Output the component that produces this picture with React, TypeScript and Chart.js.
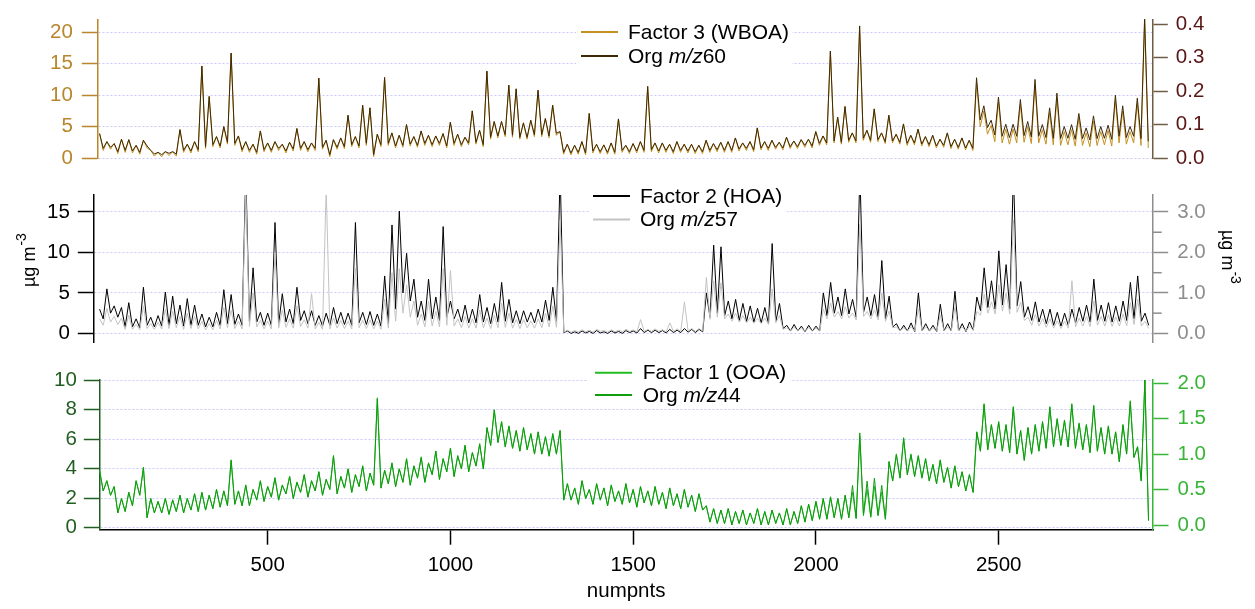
import React, { useEffect, useRef } from 'react';
import { Chart, registerables } from 'chart.js';

Chart.register(...registerables);

// ---------------- DATA ----------------
// Each 20-point bin i starts at numpnts = X_START + i * X_STEP.
// "Hi" = top of the noisy trace in that bin (incl. spikes), "Lo" = bottom of the trace.
const X_START = 40;
const X_STEP = 20;

// Panel 1: Factor 3 (WBOA), left axis
const f3Hi = [
  3.9, 2.6, 2.3, 3.0, 2.9, 2.0, 2.8, 1.2, 0.9, 1.0,
  1.0, 4.5, 2.2, 2.6, 14.6, 9.8, 3.4, 5.0, 16.7, 3.5,
  2.6, 2.2, 4.3, 2.4, 2.6, 2.2, 2.5, 4.7, 2.6, 2.4,
  12.7, 2.8, 2.9, 3.2, 6.8, 3.4, 8.4, 8.0, 3.8, 12.8,
  4.0, 3.6, 5.3, 3.4, 4.3, 3.6, 3.5, 3.9, 5.7, 3.8,
  3.3, 7.5, 4.4, 13.8, 5.8, 5.8, 11.6, 11.0, 5.6, 6.0,
  10.8, 6.3, 8.4, 4.2, 2.2, 2.0, 2.6, 7.1, 2.2, 2.1,
  2.4, 6.2, 2.0, 2.3, 2.6, 11.4, 2.4, 2.4, 2.2, 2.6,
  2.2, 2.2, 2.0, 2.8, 2.3, 2.5, 2.6, 3.2, 2.4, 2.6,
  4.8, 2.6, 2.8, 2.5, 3.3, 2.7, 2.9, 3.0, 4.2, 3.5,
  17.0, 6.5, 8.2, 4.0, 21.0, 4.4, 7.8, 4.0, 6.8, 3.8,
  5.4, 3.6, 4.6, 3.4, 3.6, 3.0, 4.0, 3.0, 3.2, 2.8,
  12.0, 7.5, 5.2, 8.9, 4.6, 4.6, 8.5, 5.0, 11.7, 4.5,
  7.2, 9.5, 4.2, 4.5, 6.3, 4.0, 5.9, 4.2, 4.4, 9.2,
  7.5, 4.2, 8.7, 22.2,
];
const f3Lo = [
  1.2, 1.4, 0.7, 0.9, 0.8, 0.6, 1.6, 0.3, 0.2, 0.4,
  0.3, 0.9, 0.8, 1.0, 1.5, 1.8, 1.6, 2.2, 2.0, 1.0,
  0.9, 0.6, 1.0, 0.9, 1.2, 0.8, 1.1, 1.2, 1.0, 1.2,
  1.4, 0.2, 1.4, 1.5, 1.8, 1.6, 2.0, 0.2, 1.8, 2.0,
  1.6, 1.7, 1.9, 1.7, 2.0, 1.8, 2.0, 1.6, 2.0, 1.8,
  2.1, 2.2, 1.8, 3.0, 3.2, 3.4, 3.3, 3.0, 3.0, 3.4,
  3.4, 3.2, 3.6, 0.6, 0.5, 0.6, 0.5, 0.8, 0.7, 0.6,
  0.6, 0.9, 0.7, 0.8, 0.9, 1.0, 0.8, 0.9, 0.7, 0.9,
  0.8, 0.7, 0.7, 0.9, 1.0, 0.9, 0.9, 1.1, 1.2, 1.0,
  1.3, 1.2, 1.4, 1.3, 1.5, 1.5, 1.7, 1.6, 2.0, 2.1,
  2.4, 2.2, 2.5, 2.4, 2.8, 2.5, 2.6, 2.3, 2.4, 2.2,
  2.0, 2.1, 1.9, 1.8, 1.6, 1.7, 1.5, 1.4, 1.3, 1.2,
  5.0, 3.8, 2.6, 2.4, 2.2, 2.4, 2.5, 2.3, 2.4, 2.2,
  2.1, 2.0, 2.1, 1.9, 2.0, 1.8, 2.0, 2.1, 1.9, 2.4,
  2.2, 2.4, 2.0, 1.6,
];
// Panel 1: Org m/z60, right axis
const mz60Hi = [
  0.073, 0.049, 0.043, 0.056, 0.055, 0.038, 0.053, 0.023, 0.017, 0.019,
  0.019, 0.085, 0.041, 0.049, 0.275, 0.184, 0.064, 0.094, 0.314, 0.066,
  0.049, 0.041, 0.081, 0.045, 0.049, 0.041, 0.047, 0.088, 0.049, 0.045,
  0.239, 0.053, 0.055, 0.06, 0.128, 0.064, 0.158, 0.15, 0.071, 0.241,
  0.075, 0.068, 0.1, 0.064, 0.081, 0.068, 0.066, 0.073, 0.107, 0.071,
  0.062, 0.141, 0.083, 0.26, 0.109, 0.109, 0.218, 0.207, 0.105, 0.113,
  0.203, 0.118, 0.158, 0.079, 0.041, 0.038, 0.049, 0.133, 0.041, 0.039,
  0.045, 0.117, 0.038, 0.043, 0.049, 0.214, 0.045, 0.045, 0.041, 0.049,
  0.041, 0.041, 0.038, 0.053, 0.043, 0.047, 0.049, 0.06, 0.045, 0.049,
  0.09, 0.049, 0.053, 0.047, 0.062, 0.051, 0.055, 0.056, 0.079, 0.066,
  0.32, 0.122, 0.154, 0.075, 0.395, 0.083, 0.147, 0.075, 0.128, 0.071,
  0.102, 0.068, 0.086, 0.064, 0.068, 0.056, 0.075, 0.056, 0.06, 0.053,
  0.24, 0.156, 0.113, 0.182, 0.101, 0.101, 0.175, 0.109, 0.235, 0.1,
  0.15, 0.194, 0.094, 0.1, 0.133, 0.09, 0.126, 0.094, 0.098, 0.188,
  0.156, 0.094, 0.179, 0.42,
];
const mz60Lo = [
  0.029, 0.032, 0.019, 0.023, 0.021, 0.017, 0.036, 0.012, 0.01, 0.014,
  0.012, 0.023, 0.021, 0.025, 0.034, 0.04, 0.036, 0.047, 0.044, 0.025,
  0.023, 0.017, 0.025, 0.023, 0.029, 0.021, 0.027, 0.029, 0.025, 0.029,
  0.032, 0.01, 0.032, 0.034, 0.04, 0.036, 0.044, 0.01, 0.04, 0.044,
  0.036, 0.038, 0.042, 0.038, 0.044, 0.04, 0.044, 0.036, 0.044, 0.04,
  0.045, 0.047, 0.04, 0.062, 0.066, 0.07, 0.068, 0.062, 0.062, 0.07,
  0.07, 0.066, 0.074, 0.017, 0.015, 0.017, 0.015, 0.021, 0.019, 0.017,
  0.017, 0.023, 0.019, 0.021, 0.023, 0.025, 0.021, 0.023, 0.019, 0.023,
  0.021, 0.019, 0.019, 0.023, 0.025, 0.023, 0.023, 0.027, 0.029, 0.025,
  0.03, 0.029, 0.032, 0.03, 0.034, 0.034, 0.038, 0.036, 0.044, 0.045,
  0.051, 0.047, 0.053, 0.051, 0.059, 0.053, 0.055, 0.049, 0.051, 0.047,
  0.044, 0.045, 0.042, 0.04, 0.036, 0.038, 0.034, 0.032, 0.03, 0.029,
  0.114, 0.091, 0.069, 0.065, 0.061, 0.065, 0.067, 0.063, 0.065, 0.061,
  0.059, 0.058, 0.059, 0.056, 0.058, 0.054, 0.058, 0.059, 0.056, 0.065,
  0.061, 0.065, 0.058, 0.05,
];

// Panel 2: Factor 2 (HOA), left axis (values above 17 run off the top)
const f2Hi = [
  3.0, 5.5, 3.4, 3.2, 3.8, 1.8, 5.7, 2.0, 2.2, 5.1,
  4.6, 3.5, 4.3, 3.5, 2.4, 2.0, 2.6, 5.4, 4.8, 2.4,
  20, 8.1, 2.6, 2.5, 13.7, 4.9, 3.0, 5.7, 2.8, 2.8,
  2.2, 2.5, 3.2, 2.6, 2.5, 13.7, 2.6, 2.7, 2.4, 7.1,
  13.4, 15.1, 9.9, 6.7, 4.0, 6.7, 4.5, 13.2, 4.0, 3.0,
  3.5, 3.0, 4.8, 3.2, 3.7, 6.3, 4.2, 2.8, 2.8, 2.6,
  3.0, 4.1, 5.7, 20, 0.3, 0.2, 0.3, 0.25, 0.35, 0.2,
  0.3, 0.25, 0.35, 0.3, 0.6, 0.4, 0.4, 0.35, 0.5, 0.4,
  0.6, 0.5, 0.5, 5.0, 10.9, 10.7, 4.0, 4.2, 3.7, 3.4,
  3.1, 3.2, 11.1, 3.7, 1.0, 1.1, 0.9, 1.0, 0.9, 5.0,
  6.3, 4.5, 5.5, 4.2, 20, 4.5, 4.8, 9.0, 4.6, 1.2,
  1.0, 1.3, 5.0, 1.2, 1.0, 3.6, 1.2, 5.2, 1.2, 1.4,
  4.5, 8.1, 6.5, 10.2, 8.5, 20, 6.4, 3.3, 3.9, 3.0,
  3.0, 2.6, 2.5, 3.0, 3.2, 3.5, 6.7, 3.5, 3.8, 3.4,
  4.0, 6.3, 7.1, 2.5,
];
const f2Lo = [
  1.8, 2.5, 2.0, 0.8, 0.8, 0.7, 1.0, 0.8, 0.9, 1.0,
  1.2, 0.9, 1.0, 1.0, 0.8, 0.8, 1.0, 1.2, 1.1, 1.0,
  1.5, 1.4, 1.0, 1.0, 1.2, 1.4, 1.2, 1.6, 1.2, 1.0,
  0.9, 1.0, 1.2, 1.1, 1.0, 1.3, 1.1, 1.0, 0.9, 1.2,
  3.0, 5.0, 4.0, 2.0, 1.6, 1.8, 1.6, 2.0, 1.8, 1.4,
  1.3, 1.3, 1.4, 1.2, 1.4, 1.5, 1.3, 1.2, 1.4, 1.3,
  1.4, 1.6, 1.5, 0.1, 0.0, 0.0, 0.05, 0.0, 0.05, 0.0,
  0.05, 0.0, 0.1, 0.05, 0.1, 0.1, 0.1, 0.05, 0.1, 0.1,
  0.15, 0.1, 0.2, 2.0, 2.5, 2.2, 1.8, 1.6, 1.5, 1.4,
  1.3, 1.2, 1.5, 0.6, 0.3, 0.3, 0.2, 0.3, 0.3, 2.2,
  2.5, 2.2, 2.4, 2.0, 2.6, 2.2, 2.0, 1.8, 0.8, 0.3,
  0.3, 0.2, 0.3, 0.3, 0.2, 0.3, 0.3, 0.3, 0.2, 0.4,
  2.8, 3.2, 3.0, 3.5, 3.0, 3.4, 2.0, 1.6, 1.4, 1.2,
  1.0, 0.9, 1.0, 1.3, 1.5, 1.4, 1.6, 1.5, 1.4, 1.5,
  1.6, 1.8, 1.5, 1.0,
];
// Panel 2: Org m/z57, right axis
const mz57Hi = [
  0.36, 0.62, 0.42, 0.38, 0.45, 0.22, 0.68, 0.24, 0.27, 0.6,
  0.55, 0.42, 0.5, 0.42, 0.3, 0.24, 0.32, 0.64, 0.57, 0.3,
  3.6, 1.0, 0.32, 0.3, 2.0, 0.58, 0.36, 0.68, 0.34, 0.98,
  0.27, 3.6, 0.38, 0.32, 0.3, 1.6, 0.32, 0.33, 0.3, 0.85,
  1.5, 1.6, 1.2, 0.8, 0.48, 0.8, 0.54, 1.6, 1.55, 0.36,
  0.42, 0.36, 0.58, 0.38, 0.44, 0.75, 0.5, 0.34, 0.34, 0.31,
  0.36, 0.5, 0.68, 2.8, 0.08, 0.07, 0.09, 0.08, 0.1, 0.07,
  0.09, 0.08, 0.1, 0.09, 0.34, 0.1, 0.11, 0.09, 0.26, 0.11,
  0.78, 0.12, 0.12, 1.38, 1.3, 1.25, 0.48, 0.5, 0.44, 0.4,
  0.37, 0.38, 1.1, 0.44, 0.14, 0.15, 0.13, 0.14, 0.13, 0.6,
  0.75, 0.54, 0.66, 0.5, 2.7, 0.54, 0.58, 1.0, 0.55, 0.16,
  0.14, 0.17, 0.6, 0.16, 0.14, 0.45, 0.16, 0.65, 0.16, 0.18,
  0.54, 0.97, 0.78, 1.2, 1.0, 2.8, 0.77, 0.4, 0.47, 0.36,
  0.36, 0.31, 0.3, 1.3, 0.38, 0.42, 0.8, 0.42, 0.46, 0.41,
  0.48, 0.76, 0.85, 0.3,
];
const mz57Lo = [
  0.2, 0.28, 0.22, 0.1, 0.1, 0.09, 0.12, 0.1, 0.11, 0.12,
  0.14, 0.1, 0.12, 0.11, 0.09, 0.09, 0.11, 0.14, 0.12, 0.11,
  0.17, 0.16, 0.11, 0.11, 0.13, 0.15, 0.13, 0.17, 0.13, 0.11,
  0.1, 0.11, 0.13, 0.12, 0.11, 0.14, 0.12, 0.11, 0.1, 0.13,
  0.3, 0.5, 0.4, 0.2, 0.16, 0.18, 0.16, 0.2, 0.18, 0.14,
  0.13, 0.13, 0.14, 0.12, 0.14, 0.15, 0.13, 0.12, 0.14, 0.13,
  0.14, 0.16, 0.15, 0.03, 0.03, 0.04, 0.04, 0.03, 0.05, 0.03,
  0.04, 0.04, 0.05, 0.04, 0.05, 0.05, 0.05, 0.04, 0.05, 0.05,
  0.06, 0.05, 0.06, 0.35, 0.4, 0.36, 0.3, 0.28, 0.26, 0.25,
  0.24, 0.22, 0.26, 0.1, 0.06, 0.06, 0.05, 0.06, 0.06, 0.36,
  0.4, 0.36, 0.38, 0.33, 0.42, 0.36, 0.33, 0.3, 0.14, 0.06,
  0.06, 0.05, 0.06, 0.06, 0.05, 0.06, 0.06, 0.06, 0.05, 0.08,
  0.45, 0.5, 0.48, 0.55, 0.48, 0.52, 0.32, 0.2, 0.18, 0.15,
  0.13, 0.12, 0.13, 0.16, 0.18, 0.17, 0.2, 0.18, 0.17, 0.18,
  0.19, 0.22, 0.18, 0.12,
];

// Panel 3: Factor 1 (OOA), left axis
const f1Hi = [
  3.9, 3.2, 2.8, 2.0, 2.4, 3.2, 4.1, 2.0, 1.8, 2.0,
  1.9, 2.2, 2.0, 2.3, 2.4, 2.2, 2.6, 2.5, 4.6, 2.5,
  2.9, 2.6, 3.2, 2.8, 3.4, 2.9, 3.5, 3.1, 3.6, 3.2,
  3.8, 3.3, 4.9, 3.5, 4.0, 3.6, 4.2, 3.7, 8.8, 3.9,
  4.4, 4.0, 4.7, 4.2, 4.8, 4.4, 5.2, 4.7, 5.4, 4.9,
  5.6, 5.1, 5.7, 6.8, 8.0, 7.2, 6.9, 6.6, 6.8, 6.4,
  6.5, 6.2, 6.4, 6.6, 3.0, 2.7, 3.2, 2.6, 3.0, 2.7,
  2.9, 2.5, 3.0, 2.6, 2.8, 2.5, 2.8, 2.4, 2.7, 2.3,
  2.6, 2.2, 2.3, 1.5, 1.3, 1.2, 1.3, 1.1, 1.2, 1.0,
  1.3, 1.1, 1.2, 1.0, 1.3, 1.1, 1.5, 1.6, 1.8, 2.0,
  2.1, 2.0, 2.2, 2.4, 6.2, 2.6, 2.8, 2.4, 4.5, 5.0,
  6.1, 5.0, 4.9, 4.7, 4.3, 4.6, 4.1, 4.2, 3.8, 3.6,
  6.5, 8.4, 7.0, 7.2, 7.0, 8.2, 6.6, 6.8, 7.0, 7.2,
  8.2, 7.4, 7.3, 8.4, 7.1, 7.0, 8.3, 6.8, 6.9, 6.5,
  7.0, 8.6, 5.5, 10.0,
];
const f1Lo = [
  2.5, 2.2, 1.0, 1.1, 1.5, 2.2, 0.7, 1.0, 1.0, 0.9,
  1.1, 1.0, 1.2, 1.1, 1.2, 1.3, 1.4, 1.5, 1.6, 1.5,
  1.5, 1.9, 1.8, 2.1, 1.9, 2.3, 2.0, 2.4, 2.1, 2.5,
  2.2, 2.6, 2.3, 2.7, 2.4, 2.8, 2.5, 2.9, 2.7, 3.0,
  2.8, 3.1, 2.9, 3.4, 3.1, 3.6, 3.3, 3.8, 3.5, 4.0,
  3.8, 4.2, 4.0, 5.6, 5.8, 5.5, 5.4, 5.2, 5.3, 5.0,
  5.0, 4.9, 5.0, 1.9, 1.9, 1.6, 2.0, 1.6, 1.9, 1.5,
  1.8, 1.6, 1.7, 1.4, 1.7, 1.5, 1.6, 1.3, 1.5, 1.3,
  1.4, 1.1, 1.2, 0.4, 0.3, 0.3, 0.2, 0.3, 0.2, 0.3,
  0.2, 0.2, 0.3, 0.2, 0.2, 0.3, 0.4, 0.5, 0.6, 0.6,
  0.7, 0.6, 0.7, 0.6, 0.8, 0.7, 0.8, 0.6, 3.2, 3.4,
  3.6, 3.5, 3.4, 3.2, 3.0, 3.1, 2.7, 2.8, 2.5, 2.4,
  5.2, 5.3, 5.4, 5.2, 5.1, 5.0, 4.6, 5.0, 5.2, 5.4,
  5.5, 5.6, 5.5, 5.4, 5.3, 5.1, 5.2, 5.0, 5.0, 4.5,
  5.0, 4.8, 3.2, 0.5,
];
// Panel 3: Org m/z44, right axis
const mz44Hi = [
  0.77, 0.62, 0.54, 0.37, 0.46, 0.62, 0.81, 0.37, 0.33, 0.37,
  0.35, 0.42, 0.37, 0.44, 0.46, 0.42, 0.5, 0.48, 0.91, 0.48,
  0.56, 0.5, 0.62, 0.54, 0.66, 0.56, 0.68, 0.6, 0.71, 0.62,
  0.75, 0.64, 0.97, 0.68, 0.79, 0.71, 0.83, 0.73, 1.78, 0.77,
  0.87, 0.79, 0.93, 0.83, 0.95, 0.87, 1.04, 0.93, 1.08, 0.97,
  1.12, 1.02, 1.14, 1.37, 1.62, 1.45, 1.39, 1.33, 1.37, 1.28,
  1.31, 1.24, 1.28, 1.33, 0.58, 0.52, 0.62, 0.5, 0.58, 0.52,
  0.56, 0.48, 0.58, 0.5, 0.54, 0.48, 0.54, 0.46, 0.52, 0.44,
  0.5, 0.42, 0.44, 0.27, 0.23, 0.21, 0.23, 0.19, 0.21, 0.17,
  0.23, 0.19, 0.21, 0.17, 0.23, 0.19, 0.27, 0.29, 0.33, 0.37,
  0.39, 0.37, 0.42, 0.56, 1.3, 0.62, 0.66, 0.56, 0.89, 0.99,
  1.22, 0.99, 0.97, 0.93, 0.85, 0.91, 0.81, 0.83, 0.75, 0.71,
  1.31, 1.7, 1.41, 1.45, 1.41, 1.66, 1.33, 1.37, 1.41, 1.45,
  1.66, 1.49, 1.47, 1.7, 1.43, 1.41, 1.68, 1.37, 1.39, 1.31,
  1.41, 1.74, 1.1, 2.05,
];
const mz44Lo = [
  0.48, 0.42, 0.17, 0.19, 0.27, 0.42, 0.1, 0.17, 0.17, 0.15,
  0.19, 0.17, 0.21, 0.19, 0.21, 0.23, 0.25, 0.27, 0.29, 0.27,
  0.27, 0.35, 0.33, 0.39, 0.35, 0.44, 0.37, 0.46, 0.39, 0.48,
  0.42, 0.5, 0.44, 0.52, 0.46, 0.54, 0.48, 0.56, 0.52, 0.58,
  0.54, 0.6, 0.56, 0.66, 0.6, 0.71, 0.64, 0.75, 0.68, 0.79,
  0.75, 0.83, 0.79, 1.12, 1.16, 1.1, 1.08, 1.04, 1.06, 1.0,
  1.0, 0.97, 1.0, 0.35, 0.35, 0.29, 0.37, 0.29, 0.35, 0.27,
  0.33, 0.29, 0.31, 0.25, 0.31, 0.27, 0.29, 0.23, 0.27, 0.23,
  0.25, 0.19, 0.21, 0.04, 0.02, 0.02, 0.0, 0.02, 0.0, 0.02,
  0.0, 0.0, 0.02, 0.0, 0.0, 0.02, 0.04, 0.06, 0.08, 0.08,
  0.1, 0.08, 0.1, 0.1, 0.15, 0.12, 0.14, 0.08, 0.62, 0.66,
  0.71, 0.68, 0.66, 0.62, 0.58, 0.6, 0.52, 0.54, 0.48, 0.46,
  1.04, 1.06, 1.08, 1.04, 1.02, 1.0, 0.91, 1.0, 1.04, 1.08,
  1.1, 1.12, 1.1, 1.08, 1.06, 1.02, 1.04, 1.0, 1.0, 0.89,
  1.0, 0.95, 0.62, 0.06,
];

// tick labels
const xTicks = [500, 1000, 1500, 2000, 2500];
const topLeftTicks = [0, 5, 10, 15, 20];
const topRightTicks = [0, 0.1, 0.2, 0.3, 0.4];
const midLeftTicks = [0, 5, 10, 15];
const midRightTicks = [0, 1, 2, 3];
const midRightMinor = [0.5, 1.5, 2.5];
const botLeftTicks = [0, 2, 4, 6, 8, 10];
const botRightTicks = [0, 0.5, 1, 1.5, 2];

// ---------------- STYLE ----------------
const W = 1255;
const H = 609;
const FONT = '"Liberation Sans", Arial, Helvetica, sans-serif';
const TICK_SIZE = 20.5;
const LEGEND_SIZE = 21;
const GRID_COLOR = 'rgba(150,150,255,0.5)';

const C_GOLD = '#c4901f';
const C_DARKBROWN = '#3e2905';
const C_TOPL_AXIS = '#b8862c';
const C_TOPR_AXIS = '#6e5c44';
const C_TOPR_LABEL = '#5a1515';
const C_GRAY = '#c3c3c3';
const C_MIDR_AXIS = '#8d8d8d';
const C_F1 = '#22bb22';
const C_M44 = '#0f9c0f';
const C_BOTL_AXIS = '#225e22';
const C_BOTR_AXIS = '#36b536';

// interleave bin top / bin bottom into one trace
const band = (hi: number[], lo: number[]) => {
  const out: { x: number; y: number }[] = [];
  hi.forEach((h, i) => {
    out.push({ x: X_START + i * X_STEP, y: h });
    out.push({ x: X_START + i * X_STEP + X_STEP / 2, y: lo[i] });
  });
  return out;
};

function yScale(o: any) {
  return {
    type: 'linear',
    position: o.position,
    min: o.min,
    max: o.max,
    afterFit: (s: any) => {
      s.width = o.width;
    },
    afterBuildTicks: (s: any) => {
      s.ticks = o.ticks.map((v: number) => ({ value: v }));
    },
    ticks: {
      color: o.labelColor,
      padding: o.padding,
      font: { family: FONT, size: TICK_SIZE, lineHeight: 1 },
      callback: (v: any) => (o.decimals ? Number(v).toFixed(o.decimals) : String(v)),
    },
    grid: {
      display: true,
      drawOnChartArea: !!o.grid,
      color: GRID_COLOR,
      lineWidth: 1,
      drawTicks: true,
      tickLength: 15.5,
      tickColor: o.lineColor,
      tickWidth: 1.5,
    },
    border: { display: true, color: o.lineColor, width: 1.5, dash: [2, 2] },
  };
}

function drawLegend(ctx: CanvasRenderingContext2D, L: any) {
  ctx.save();
  ctx.fillStyle = '#ffffff';
  ctx.fillRect(L.box[0], L.box[1], L.box[2], L.box[3]);
  L.items.forEach((it: any) => {
    ctx.strokeStyle = it.color;
    ctx.lineWidth = 2;
    ctx.setLineDash([]);
    ctx.beginPath();
    ctx.moveTo(L.lineX[0], it.y);
    ctx.lineTo(L.lineX[1], it.y);
    ctx.stroke();
    let x = L.textX;
    ctx.fillStyle = '#000';
    ctx.textBaseline = 'middle';
    ctx.textAlign = 'left';
    it.parts.forEach((p: any) => {
      ctx.font = `${p[1] ? 'italic ' : ''}${LEGEND_SIZE}px ${FONT}`;
      ctx.fillText(p[0], x, it.y + 1);
      x += ctx.measureText(p[0]).width;
    });
  });
  ctx.restore();
}

function drawUnit(ctx: CanvasRenderingContext2D, x: number, y: number, rot: number) {
  ctx.save();
  ctx.translate(x, y);
  ctx.rotate(rot);
  ctx.fillStyle = '#000';
  ctx.textBaseline = 'middle';
  ctx.textAlign = 'left';
  ctx.font = `18px ${FONT}`;
  ctx.fillText('µg m', 0, 0);
  const w = ctx.measureText('µg m').width;
  ctx.font = `14px ${FONT}`;
  ctx.fillText('-3', w + 1, -8);
  ctx.restore();
}

function baseOptions(padding: any) {
  return {
    responsive: false,
    maintainAspectRatio: false,
    animation: false,
    devicePixelRatio: 1,
    events: [],
    layout: { padding },
    plugins: {
      legend: { display: false },
      tooltip: { enabled: false },
      title: { display: false },
    },
    elements: {
      point: { radius: 0 },
      line: { borderWidth: 1, tension: 0 },
    },
  };
}

function lineDs(label: string, data: any[], axis: string, color: string, order: number) {
  return {
    label,
    data,
    yAxisID: axis,
    borderColor: color,
    backgroundColor: color,
    borderWidth: 1,
    pointRadius: 0,
    fill: false,
    order,
  };
}

function topConfig(): any {
  const legend = {
    box: [576, 14, 216, 56],
    lineX: [581, 618],
    textX: 628,
    items: [
      { y: 32, color: C_GOLD, parts: [['Factor 3 (WBOA)', false]] },
      { y: 56, color: C_DARKBROWN, parts: [['Org ', false], ['m/z', true], ['60', false]] },
    ],
  };
  return {
    type: 'line',
    data: {
      datasets: [
        lineDs('Org m/z60', band(mz60Hi, mz60Lo), 'yR', C_DARKBROWN, 0),
        lineDs('Factor 3 (WBOA)', band(f3Hi, f3Lo), 'yL', C_GOLD, 1),
      ],
    },
    options: {
      ...baseOptions({ top: 10.7, bottom: H - 158, left: 0, right: 0 }),
      scales: {
        x: { type: 'linear', min: 33.8, max: 2921, display: false },
        yL: yScale({ position: 'left', min: 0, max: 22.1, width: 97.3, ticks: topLeftTicks, labelColor: C_TOPL_AXIS, lineColor: C_TOPL_AXIS, padding: 9, grid: true }),
        yR: yScale({ position: 'right', min: 0, max: 0.415, width: W - 1152.3, ticks: topRightTicks, labelColor: C_TOPR_LABEL, lineColor: C_TOPR_AXIS, padding: 8, decimals: 1, grid: false }),
      },
    },
    plugins: [
      {
        id: 'decorTop',
        beforeDatasetsDraw(chart: any) {
          drawLegend(chart.ctx, legend);
        },
      },
    ],
  };
}

function midConfig(): any {
  const legend = {
    box: [590, 184, 197, 48],
    lineX: [593, 630],
    textX: 640,
    items: [
      { y: 196, color: '#000000', parts: [['Factor 2 (HOA)', false]] },
      { y: 219.5, color: C_GRAY, parts: [['Org ', false], ['m/z', true], ['57', false]] },
    ],
  };
  return {
    type: 'line',
    data: {
      datasets: [
        lineDs('Org m/z57', band(mz57Hi, mz57Lo), 'yR', C_GRAY, 0),
        lineDs('Factor 2 (HOA)', band(f2Hi, f2Lo), 'yL', '#000000', 1),
      ],
    },
    options: {
      ...baseOptions({ top: 195, bottom: H - 342.3, left: 0, right: 0 }),
      scales: {
        x: { type: 'linear', min: 22.9, max: 2921, display: false },
        yL: yScale({ position: 'left', min: -1.1, max: 17.1, width: 93.3, ticks: midLeftTicks, labelColor: '#000', lineColor: '#000', padding: 8, grid: true }),
        yR: yScale({ position: 'right', min: -0.22, max: 3.42, width: W - 1152.7, ticks: midRightTicks, labelColor: C_MIDR_AXIS, lineColor: C_MIDR_AXIS, padding: 9, decimals: 1, grid: false }),
      },
    },
    plugins: [
      {
        id: 'decorMid',
        beforeDatasetsDraw(chart: any) {
          drawLegend(chart.ctx, legend);
        },
        afterDraw(chart: any) {
          const ctx = chart.ctx;
          const s = chart.scales.yR;
          ctx.save();
          ctx.strokeStyle = C_MIDR_AXIS;
          ctx.lineWidth = 1.5;
          midRightMinor.forEach((v) => {
            const y = s.getPixelForValue(v);
            ctx.beginPath();
            ctx.moveTo(s.left, y);
            ctx.lineTo(s.left + 9, y);
            ctx.stroke();
          });
          ctx.restore();
          drawUnit(ctx, 30, 287, -Math.PI / 2);
          drawUnit(ctx, 1227, 230, Math.PI / 2);
        },
      },
    ],
  };
}

function botConfig(): any {
  const legend = {
    box: [588, 362, 202, 46],
    lineX: [595, 632],
    textX: 642.7,
    items: [
      { y: 372.7, color: C_F1, parts: [['Factor 1 (OOA)', false]] },
      { y: 395, color: C_M44, parts: [['Org ', false], ['m/z', true], ['44', false]] },
    ],
  };
  return {
    type: 'line',
    data: {
      datasets: [
        lineDs('Org m/z44', band(mz44Hi, mz44Lo), 'yR', C_M44, 0),
        lineDs('Factor 1 (OOA)', band(f1Hi, f1Lo), 'yL', C_F1, 1),
      ],
    },
    options: {
      ...baseOptions({ top: 380, bottom: 0, left: 0, right: 0 }),
      scales: {
        x: {
          type: 'linear',
          position: 'bottom',
          min: 39.3,
          max: 2922.2,
          afterFit: (s: any) => {
            s.height = H - 529.7;
          },
          afterBuildTicks: (s: any) => {
            s.ticks = xTicks.map((v) => ({ value: v }));
          },
          ticks: {
            color: '#000',
            padding: 8,
            maxRotation: 0,
            autoSkip: false,
            font: { family: FONT, size: TICK_SIZE },
            callback: (v: any) => String(v),
          },
          grid: { drawOnChartArea: false, drawTicks: true, tickLength: 15, tickColor: '#000', tickWidth: 1.5 },
          border: { color: '#000', width: 1.5 },
          title: {
            display: true,
            text: 'numpnts',
            color: '#000',
            font: { family: FONT, size: TICK_SIZE },
            padding: { top: 0, bottom: 5 },
          },
        },
        yL: yScale({ position: 'left', min: -0.135, max: 10, width: 99.3, ticks: botLeftTicks, labelColor: C_BOTL_AXIS, lineColor: C_BOTL_AXIS, padding: 7, grid: true }),
        yR: yScale({ position: 'right', min: -0.066, max: 2.047, width: W - 1153, ticks: botRightTicks, labelColor: C_BOTR_AXIS, lineColor: C_BOTR_AXIS, padding: 9, decimals: 1, grid: false }),
      },
    },
    plugins: [
      {
        id: 'decorBot',
        beforeDatasetsDraw(chart: any) {
          drawLegend(chart.ctx, legend);
        },
      },
    ],
  };
}

const canvasStyle: React.CSSProperties = { position: 'absolute', left: 0, top: 0, width: W, height: H };

export default function App() {
  const topRef = useRef<HTMLCanvasElement>(null);
  const midRef = useRef<HTMLCanvasElement>(null);
  const botRef = useRef<HTMLCanvasElement>(null);

  useEffect(() => {
    const charts = [
      new Chart(topRef.current as HTMLCanvasElement, topConfig()),
      new Chart(midRef.current as HTMLCanvasElement, midConfig()),
      new Chart(botRef.current as HTMLCanvasElement, botConfig()),
    ];
    return () => charts.forEach((c) => c.destroy());
  }, []);

  return (
    <div style={{ position: 'absolute', left: 0, top: 0, width: W, height: H, background: '#ffffff', overflow: 'hidden' }}>
      <canvas ref={topRef} width={W} height={H} style={canvasStyle} />
      <canvas ref={midRef} width={W} height={H} style={canvasStyle} />
      <canvas ref={botRef} width={W} height={H} style={canvasStyle} />
    </div>
  );
}
